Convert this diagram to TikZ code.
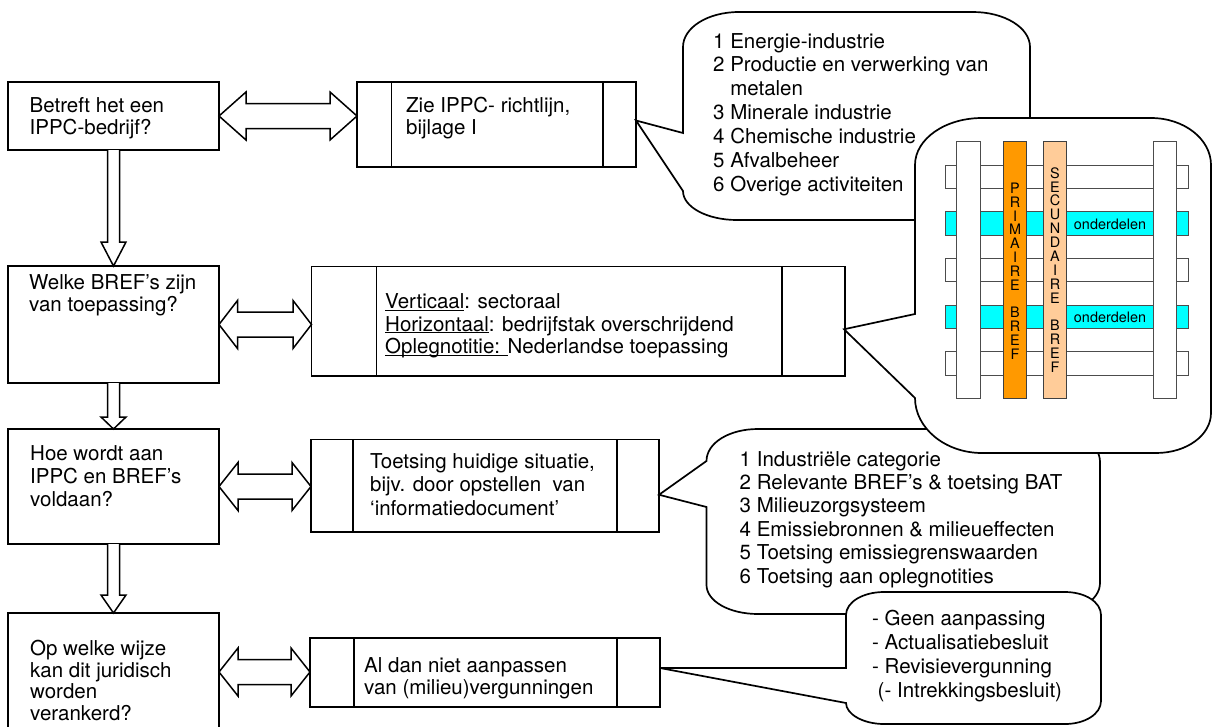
\documentclass[tikz,border=0pt]{standalone}
\usepackage{fontspec}
\setmainfont{TeX Gyre Heros}
\usetikzlibrary{calc}
\definecolor{lcyan}{HTML}{00FFFF}
\definecolor{lorange}{HTML}{FF9900}
\definecolor{lpeach}{HTML}{FFCC99}
\newsavebox\ulbox
\newcommand\ulx[1]{\sbox\ulbox{#1}\rlap{\rule[-2.3pt]{\wd\ulbox}{1.1pt}}\usebox\ulbox}
\newcommand\fatdouble[3]{%
  \draw[fat] (#1) -- ++(#3,-24) -- ++(0,11.5) -- ($(#2)+(-#3,-12.5)$) -- ++(0,-11.5) -- (#2)
    -- ++(-#3,24) -- ++(0,-11.5) -- ($(#1)+(#3,12.5)$) -- ++(0,11.5) -- cycle;}
\newcommand\fatdown[3]{%
  \draw[fat] ($(#1.south)+(-6,0)$) -- ($(#2.north)+(-6,-#3)$) -- ++(-6.5,0) -- (#2.north)
    -- ++(12.5,-#3) -- ++(-6.5,0) -- ($(#1.south)+(6,0)$);}
\newcommand\dividers[3]{%
  \draw[line width=1.7pt] ($(#1.north west)+(#2,0)$) -- ($(#1.south west)+(#2,0)$)
    ($(#1.north east)+(-#3,0)$) -- ($(#1.south east)+(-#3,0)$);}
\tikzset{
  box/.style={draw, line width=1.7pt, fill=white, inner sep=0pt, outer sep=0pt},
  fat/.style={draw, line width=1.5pt, fill=white, line join=miter},
  callout/.style={draw, line width=1.7pt, fill=white, line join=miter},
  txt/.style={anchor=base west, inner sep=0pt, align=left, font=\fontsize{20.5}{22}\selectfont},
  ctxt/.style={anchor=base west, inner sep=0pt, align=left, font=\fontsize{20.5}{23.7}\selectfont},
  rung/.style={draw=black!70, line width=1pt, fill=white},
  vtxt/.style={anchor=base, inner sep=0pt, align=center, font=\fontsize{14.4}{13.8}\selectfont},
  small/.style={inner sep=0pt, font=\fontsize{14.4}{16}\selectfont}
}
\begin{document}
\begin{tikzpicture}[x=1pt,y=-1pt]
\useasboundingbox (0,0) rectangle (1213,726);
% boxes
\node[box, minimum width=211, minimum height=68] (b1) at (113.5,116) {};
\node[box, minimum width=279, minimum height=85] (b2) at (496.5,124.5) {};
\node[box, minimum width=211, minimum height=117] (b3) at (113.5,324.5) {};
\node[box, minimum width=533.5, minimum height=109.5] (b4) at (578.25,321.25) {};
\node[box, minimum width=211, minimum height=115] (b5) at (113.5,486.5) {};
\node[box, minimum width=348, minimum height=92.5] (b6) at (485,485.75) {};
\node[box, minimum width=211, minimum height=118] (b7) at (113.5,672) {};
\node[box, minimum width=350, minimum height=69] (b8) at (485,672.5) {};
\dividers{b2}{34.5}{33}
\dividers{b4}{65}{63}
\dividers{b6}{42}{42}
\dividers{b8}{44}{43}
% texts in boxes (anchor = baseline of the last line)
\node[txt] (b1t) at (29.5,134) {Betreft het een\\IPPC-bedrijf?};
\node[txt] (b2t) at (406,134) {Zie IPPC- richtlijn,\\bijlage I};
\node[txt] (b3t) at (29,311) {Welke BREF’s zijn\\van toepassing?};
\node[txt, font=\fontsize{20.5}{22.5}\selectfont] (b4t) at (385,353.5) {\ulx{Verticaal}: sectoraal\\\ulx{Horizontaal}: bedrijfstak overschrijdend\\\ulx{Oplegnotitie: }Nederlandse toepassing};
\node[txt, font=\fontsize{20.5}{23}\selectfont] (b5t) at (30,506.5) {Hoe wordt aan\\IPPC en BREF’s\\voldaan?};
\node[txt, font=\fontsize{20.5}{23.5}\selectfont] (b6t) at (370,515) {Toetsing huidige situatie,\\bijv. door opstellen\ \ van\\‘informatiedocument’};
\node[txt, font=\fontsize{20.5}{21.5}\selectfont] (b7t) at (30,720) {Op welke wijze\\kan dit juridisch\\worden\\verankerd?};
\node[txt, font=\fontsize{20.5}{21.5}\selectfont] (b8t) at (364,694) {Al dan niet aanpassen\\van (milieu)vergunningen};
% arrows
\coordinate (a1) at (b1.east -| b2.west);
\coordinate (a2) at (b3.east -| b4.west);
\coordinate (a3) at (b5.east -| b6.west);
\coordinate (a4) at (b7.east -| b8.west);
\fatdouble{b1.east}{a1}{27}
\fatdouble{b3.east}{a2}{18.5}
\fatdouble{b5.east}{a3}{19}
\fatdouble{b7.east}{a4}{19}
\fatdown{b1}{b3}{24}
\fatdown{b3}{b5}{12}
\fatdown{b5}{b7}{18}
% tail tips
\coordinate (t1) at ($(b2.east)+(0,-4)$);
\coordinate (t2) at ($(b4.east)+(-1,8)$);
\coordinate (t3) at ($(b6.east)+(0,9)$);
\coordinate (t4) at ($(b8.east)+(0,-4.5)$);
% callout 1
\draw[callout] (t1) -- (683,133) -- (683,47) .. controls (683,27.7) and (707.5,12) .. (739,12)
  -- (973,12) .. controls (1004.5,12) and (1030,27.7) .. (1030,47) -- (1030,185)
  .. controls (1030,204.3) and (1004.5,220) .. (973,220) -- (737,220)
  .. controls (707,220) and (683,207) .. (683,191) -- cycle;
\node[ctxt, font=\fontsize{20.5}{23.9}\selectfont] (c1t) at (713,191.4) {1 Energie-industrie\\2 Productie en verwerking van\\\hphantom{2 }metalen\\3 Minerale industrie\\4 Chemische industrie\\5 Afvalbeheer\\6 Overige activiteiten};
% callout 3
\draw[callout] (t3) -- (706.5,461) .. controls (706.5,443) and (729,429) .. (758,429)
  -- (1050,429) .. controls (1078,429) and (1100,444) .. (1100,462) -- (1100,583)
  .. controls (1100,600) and (1078,614) .. (1050,614) -- (758,614)
  .. controls (729,614) and (706.5,601) .. (706.5,585) -- (706.5,507) -- cycle;
\node[ctxt, font=\fontsize{20.5}{23.4}\selectfont] (c3t) at (739.5,583) {1 Industriële categorie\\2 Relevante BREF’s \& toetsing BAT\\3 Milieuzorgsysteem\\4 Emissiebronnen \& milieueffecten\\5 Toetsing emissiegrenswaarden\\6 Toetsing aan oplegnotities};
% callout 2 (ladder)
\draw[callout] (t2) -- (915,314) -- (915,165) .. controls (915,139) and (945,118) .. (982,118)
  -- (1151,118) .. controls (1184,118) and (1211,139) .. (1211,165) -- (1211,413)
  .. controls (1211,435) and (1187,453) .. (1156,453) -- (982,453)
  .. controls (945,453) and (915,428) .. (915,398) -- cycle;
\foreach \ya/\yb/\c in {165/188.3/white, 211.7/235/lcyan, 258.3/281.7/white, 305/328.3/lcyan, 351.7/375/white}
  \draw[rung, fill=\c] (945,\ya) rectangle (1188.3,\yb);
\draw[rung] (956.7,141.7) rectangle (980,398.3);
\draw[rung] (1153.3,141.7) rectangle (1176.7,398.3);
\draw[rung, fill=lorange, draw=black!75] (1003.3,141.7) rectangle (1026.7,398.3);
\draw[rung, fill=lpeach, draw=black!75] (1043.3,141.7) rectangle (1066.7,398.3);
\node[vtxt] (pb) at (1015,359) {P\\R\\I\\M\\A\\I\\R\\E\\~\\B\\R\\E\\F};
\node[vtxt, font=\fontsize{14.4}{13.86}\selectfont] (sb) at (1055,372.3) {S\\E\\C\\U\\N\\D\\A\\I\\R\\E\\~\\B\\R\\E\\F};
\node[small] (o1) at (1110,224) {onderdelen};
\node[small] (o2) at (1110,317) {onderdelen};
% callout 4
\draw[callout] (t4) -- (846,668) -- (846,615) .. controls (846,602) and (863,592) .. (884,592)
  -- (1065,592) .. controls (1085,592) and (1101,602) .. (1101,615) -- (1101,701)
  .. controls (1101,714) and (1085,724) .. (1065,724) -- (884,724)
  .. controls (863,724) and (846,714) .. (846,703) -- cycle;
\node[ctxt, font=\fontsize{20.5}{24}\selectfont] (c4t) at (872,697.5) {- Geen aanpassing\\- Actualisatiebesluit\\- Revisievergunning\\\hspace*{5.5pt}(- Intrekkingsbesluit)};
\end{tikzpicture}
\end{document}
